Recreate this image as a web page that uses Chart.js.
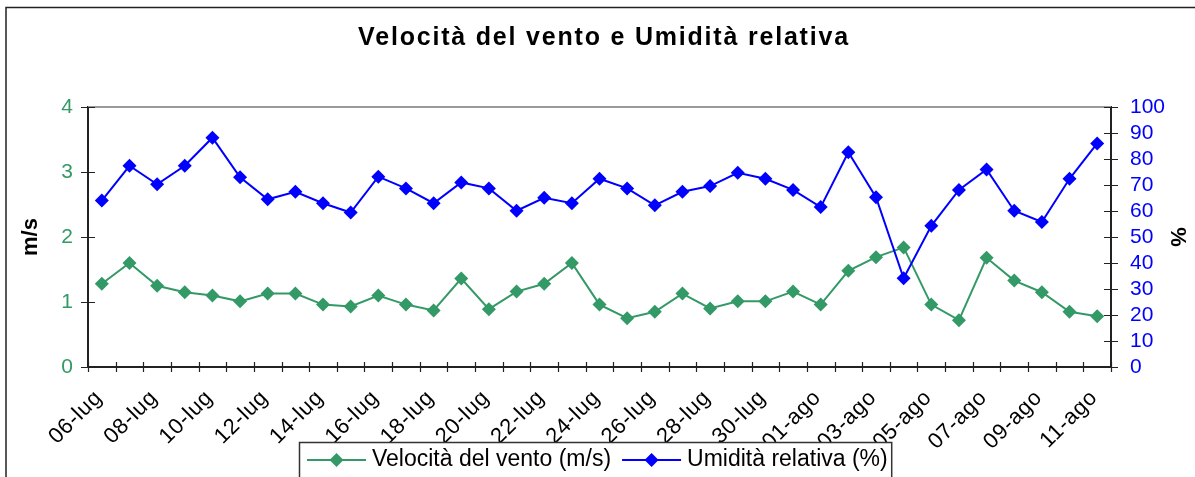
<!DOCTYPE html>
<html>
<head>
<meta charset="utf-8">
<script src="https://cdn.jsdelivr.net/npm/chart.js@4.4.1/dist/chart.umd.min.js"></script>
<style>
  html, body { margin: 0; padding: 0; background: #ffffff; }
  #wrap { width: 1195px; height: 477px; position: relative; }
</style>
</head>
<body>
<div id="wrap"><canvas id="c" width="1195" height="477"></canvas></div>
<script>
const categories = ["06-lug","07-lug","08-lug","09-lug","10-lug","11-lug","12-lug","13-lug","14-lug","15-lug",
  "16-lug","17-lug","18-lug","19-lug","20-lug","21-lug","22-lug","23-lug","24-lug","25-lug",
  "26-lug","27-lug","28-lug","29-lug","30-lug","31-lug","01-ago","02-ago","03-ago","04-ago",
  "05-ago","06-ago","07-ago","08-ago","09-ago","10-ago","11-ago"];
const windSpeed = [1.28,1.60,1.25,1.15,1.10,1.01,1.13,1.13,0.96,0.93,
  1.10,0.96,0.87,1.36,0.89,1.16,1.28,1.60,0.96,0.75,
  0.85,1.13,0.90,1.01,1.01,1.16,0.96,1.48,1.69,1.84,
  0.96,0.72,1.68,1.33,1.15,0.85,0.78];
const humidity = [64,77.4,70.3,77.4,88.2,73,64.5,67.4,63,59.4,
  73.2,68.7,63,71,68.7,60.1,65.1,63,72.4,68.7,
  62.2,67.4,69.6,74.7,72.4,68.1,61.5,82.6,65.3,34.1,
  54.3,68.1,76,60.1,55.8,72.4,86];
const leftTicks = [0,1,2,3,4];
const rightTicks = [0,10,20,30,40,50,60,70,80,90,100];
const titleText = "Velocità del vento e Umidità relativa";
const seriesNames = ["Velocità del vento (m/s)", "Umidità relativa (%)"];
const leftTitle = "m/s";
const rightTitle = "%";

const GREEN = '#339966';
const BLUE = '#0000FF';
const FONT = "'Liberation Sans', Arial, Helvetica, sans-serif";
Chart.defaults.font.family = FONT;

function diamond(ctx, x, y, r) {
  ctx.beginPath();
  ctx.moveTo(x, y - r); ctx.lineTo(x + r, y); ctx.lineTo(x, y + r); ctx.lineTo(x - r, y);
  ctx.closePath(); ctx.fill();
}

const decor = {
  id: 'decor',
  beforeDraw(chart) {
    const ctx = chart.ctx;
    ctx.save();
    ctx.fillStyle = '#fff';
    ctx.fillRect(0, 0, chart.width, chart.height);
    ctx.restore();
  },
  afterDatasetsDraw(chart) {
    // x tick labels are drawn in a later layer (ticks.z = 1): widen their spacing
    chart.ctx.letterSpacing = '0.7px';
  },
  afterDraw(chart) {
    const ctx = chart.ctx, a = chart.chartArea;
    ctx.letterSpacing = '0px';
    const x = chart.scales.x, yl = chart.scales.y, yr = chart.scales.y1;
    ctx.save();
    // outer frame
    ctx.strokeStyle = '#222'; ctx.lineWidth = 1.5;
    ctx.strokeRect(6, 7.5, 1400, 600);
    // title
    ctx.fillStyle = '#000';
    ctx.font = 'bold 25px ' + FONT;
    ctx.letterSpacing = '1.8px';
    ctx.textAlign = 'center'; ctx.textBaseline = 'middle';
    ctx.fillText(titleText, 604, 38);
    ctx.letterSpacing = '0px';
    // top border of plot area
    ctx.strokeStyle = '#9a9a9a'; ctx.lineWidth = 2;
    ctx.beginPath(); ctx.moveTo(a.left, a.top); ctx.lineTo(a.right, a.top); ctx.stroke();
    // tick marks (crossing)
    ctx.strokeStyle = '#222'; ctx.lineWidth = 1.2;
    ctx.beginPath();
    leftTicks.forEach(v => { const p = Math.round(yl.getPixelForValue(v)) + 0.5; ctx.moveTo(a.left - 7, p); ctx.lineTo(a.left + 7, p); });
    rightTicks.forEach(v => { const p = Math.round(yr.getPixelForValue(v)) + 0.5; ctx.moveTo(a.right - 7, p); ctx.lineTo(a.right + 7, p); });
    for (let i = 0; i <= categories.length; i++) {
      const p = Math.round(x.getPixelForValue(i - 0.5)) + 0.5;
      ctx.moveTo(p, a.bottom - 5); ctx.lineTo(p, a.bottom + 5);
    }
    ctx.stroke();
    // legend
    ctx.font = '23px ' + FONT;
    ctx.textBaseline = 'middle';
    const ly = 460, lineLen = 59;
    let cx = 307;
    const items = [];
    chart.data.datasets.forEach((ds, i) => {
      const w = ctx.measureText(ds.label).width;
      items.push({ x: cx, w, color: ds.borderColor, label: ds.label });
      cx += lineLen + 6 + w + 11;
    });
    const boxL = 299.5, boxR = cx - 7;
    ctx.fillStyle = '#fff';
    ctx.fillRect(boxL, 442.5, boxR - boxL, 60);
    ctx.strokeStyle = '#333'; ctx.lineWidth = 1.5;
    ctx.strokeRect(boxL, 442.5, boxR - boxL, 60);
    items.forEach(it => {
      ctx.strokeStyle = it.color; ctx.lineWidth = 2;
      ctx.beginPath(); ctx.moveTo(it.x, ly); ctx.lineTo(it.x + lineLen, ly); ctx.stroke();
      ctx.fillStyle = it.color; diamond(ctx, it.x + lineLen / 2, ly, 7);
      ctx.fillStyle = '#000'; ctx.textAlign = 'left';
      ctx.fillText(it.label, it.x + lineLen + 6, ly);
    });
    ctx.restore();
  }
};

new Chart(document.getElementById('c'), {
  type: 'line',
  data: {
    labels: categories,
    datasets: [
      { label: seriesNames[0], data: windSpeed, yAxisID: 'y', borderColor: GREEN, backgroundColor: GREEN,
        borderWidth: 2, pointStyle: 'rectRot', pointRadius: 7, pointBorderWidth: 0, tension: 0, order: 1 },
      { label: seriesNames[1], data: humidity, yAxisID: 'y1', borderColor: BLUE, backgroundColor: BLUE,
        borderWidth: 2, pointStyle: 'rectRot', pointRadius: 7, pointBorderWidth: 0, tension: 0, order: 0 }
    ]
  },
  options: {
    responsive: false,
    animation: false,
    layout: { padding: { top: 107 } },
    plugins: {
      legend: { display: false },
      tooltip: { enabled: false },
      title: { display: false }
    },
    scales: {
      x: {
        type: 'category', offset: true,
        grid: { display: false },
        border: { display: true, color: '#222', width: 2 },
        ticks: { autoSkip: false, minRotation: 45, maxRotation: 45, color: '#000', padding: 10, labelOffset: -3, z: 1,
          font: { size: 22 }, callback: (v, i) => (i % 2 === 0 ? categories[i] : '') },
        afterFit: s => { s.height = 110; }
      },
      y: {
        position: 'left', min: 0, max: 4,
        grid: { display: false },
        border: { display: true, color: '#222', width: 2 },
        ticks: { stepSize: 1, autoSkip: false, color: GREEN, font: { size: 21 }, padding: 7 },
        title: { display: true, text: leftTitle, color: '#000', font: { size: 22, weight: 'bold' }, padding: { top: 18, bottom: 0 } },
        afterFit: s => { s.width = 88; }
      },
      y1: {
        position: 'right', min: 0, max: 100,
        grid: { display: false },
        border: { display: true, color: '#222', width: 2 },
        ticks: { stepSize: 10, autoSkip: false, color: BLUE, font: { size: 21 }, padding: 11 },
        title: { display: true, text: rightTitle, color: '#000', font: { size: 22, weight: 'bold' }, padding: { top: 5, bottom: 0 } },
        afterFit: s => { s.width = 84; }
      }
    }
  },
  plugins: [decor]
});
</script>
</body>
</html>
